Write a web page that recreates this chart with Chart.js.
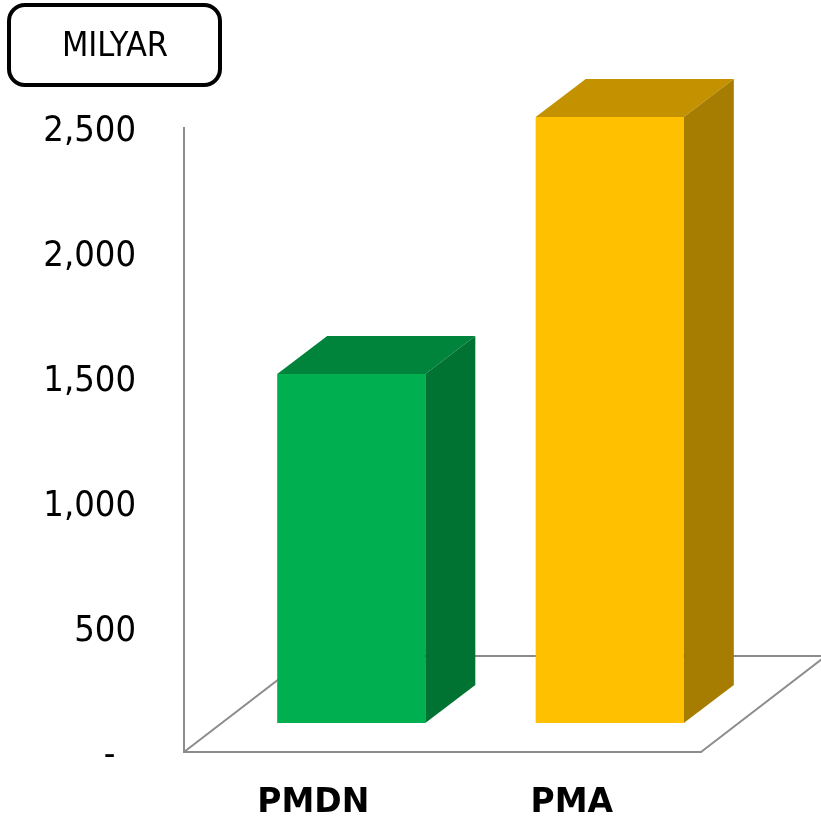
<!DOCTYPE html>
<html>
<head>
<meta charset="utf-8">
<script src="https://cdn.jsdelivr.net/npm/chart.js@4.4.0/dist/chart.umd.min.js"></script>
<style>
  html, body { margin: 0; padding: 0; background: #fff; }
  #wrap { width: 821px; height: 818px; }
</style>
</head>
<body>
<div id="wrap"><canvas id="chart"></canvas></div>
<script>
const categories = ["PMDN", "PMA"];
const values = [1398, 2428];
const yTicks = [0, 500, 1000, 1500, 2000, 2500];
const unitLabel = "MILYAR";

const frontColors = ["#00b050", "#ffc000"];
const topColors = ["#00843b", "#c49200"];
const sideColors = ["#007333", "#a67d00"];
const LINE = "#8c8c8c";

// 3d geometry (px)
const FLOOR_DX = 125, FLOOR_DY = 96;
const BAR_DX = 38, BAR_DY = 29;
const DEPTH_DX = 50, DEPTH_DY = 38;

const tickFont = { family: "'DejaVu Sans Condensed', 'DejaVu Sans'", size: 36 };

const box3d = {
  id: "box3d",
  beforeDatasetsDraw(chart) {
    const { ctx, chartArea: a } = chart;
    ctx.save();
    ctx.strokeStyle = LINE;
    ctx.lineWidth = 2;
    ctx.beginPath();
    ctx.moveTo(a.left, a.bottom);
    ctx.lineTo(a.left + FLOOR_DX, a.bottom - FLOOR_DY);
    ctx.lineTo(a.right + FLOOR_DX, a.bottom - FLOOR_DY);
    ctx.lineTo(a.right, a.bottom);
    ctx.stroke();
    ctx.restore();
    // bars sit in the middle of the floor depth
    ctx.save();
    ctx.translate(BAR_DX, -BAR_DY);
  },
  afterDatasetsDraw(chart) {
    const ctx = chart.ctx;
    chart.getDatasetMeta(0).data.forEach((bar, i) => {
      const { x, y, base, width } = bar.getProps(["x", "y", "base", "width"], true);
      const l = x - width / 2, r = x + width / 2;
      ctx.fillStyle = topColors[i];
      ctx.beginPath();
      ctx.moveTo(l, y);
      ctx.lineTo(l + DEPTH_DX, y - DEPTH_DY);
      ctx.lineTo(r + DEPTH_DX, y - DEPTH_DY);
      ctx.lineTo(r, y);
      ctx.closePath();
      ctx.fill();
      ctx.fillStyle = sideColors[i];
      ctx.beginPath();
      ctx.moveTo(r, y);
      ctx.lineTo(r + DEPTH_DX, y - DEPTH_DY);
      ctx.lineTo(r + DEPTH_DX, base - DEPTH_DY);
      ctx.lineTo(r, base);
      ctx.closePath();
      ctx.fill();
    });
    ctx.restore();
  },
  afterDraw(chart) {
    const ctx = chart.ctx;
    ctx.save();
    ctx.lineWidth = 4;
    ctx.strokeStyle = "#000";
    ctx.beginPath();
    ctx.roundRect(9, 5, 211, 80, 16);
    ctx.stroke();
    ctx.fillStyle = "#000";
    ctx.font = "34px 'DejaVu Sans Condensed', 'DejaVu Sans'";
    ctx.textAlign = "center";
    ctx.textBaseline = "middle";
    ctx.fillText(unitLabel, 115, 47);
    ctx.restore();
  }
};

new Chart(document.getElementById("chart"), {
  type: "bar",
  data: {
    labels: categories,
    datasets: [{
      data: values,
      backgroundColor: frontColors,
      borderWidth: 0,
      categoryPercentage: 1,
      barPercentage: 0.573,
      clip: false
    }]
  },
  options: {
    responsive: true,
    maintainAspectRatio: false,
    animation: false,
    events: [],
    layout: { padding: { left: 0, top: 128, right: 120, bottom: 0 } },
    plugins: { legend: { display: false }, tooltip: { enabled: false } },
    scales: {
      x: {
        grid: { display: false },
        border: { display: true, color: LINE, width: 2 },
        ticks: { color: "#000", padding: 24, font: { family: "'DejaVu Sans'", size: 33, weight: "bold" } },
        afterFit: s => { s.height = 66; }
      },
      y: {
        min: 0,
        max: 2500,
        grid: { display: false },
        border: { display: true, color: LINE, width: 2 },
        afterBuildTicks: s => { s.ticks = yTicks.map(v => ({ value: v })); },
        afterFit: s => { s.width = 184; },
        ticks: {
          color: "#000",
          padding: 40,
          labelOffset: 4,
          font: tickFont,
          callback: v => v === 0 ? "-  " : v.toLocaleString("en-US")
        }
      }
    }
  },
  plugins: [box3d]
});
</script>
</body>
</html>
